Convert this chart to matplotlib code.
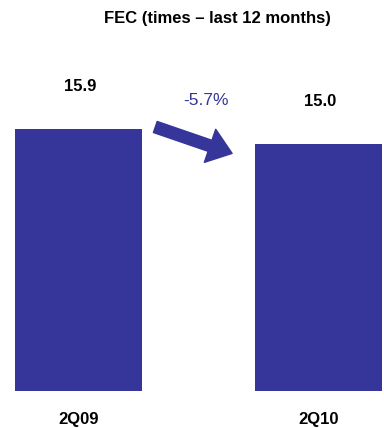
import matplotlib
matplotlib.use("Agg")
import matplotlib.pyplot as plt

plt.rcParams['font.family'] = ['Liberation Sans Narrow', 'Liberation Sans', 'DejaVu Sans']

# donnees
periodes = ["2Q09", "2Q10"]
valeurs = [15.9, 15.0]
variation = "-5.7%"
titre = "FEC (times \u2013 last 12 months)"

bleu = "#35359a"

fig = plt.figure(figsize=(3.84, 4.28), dpi=100)
ax = fig.add_axes([0, 37 / 428, 1, 391 / 428])

x = list(range(len(valeurs)))
bars = ax.bar(x, valeurs, width=0.53, color=bleu)

ax.set_xlim(-78.5 / 240, (384 - 78.5) / 240)
ax.set_ylim(0, 391 / 16.5)

# valeurs au dessus des barres
for xi, v in zip(x, valeurs):
    ax.annotate(f"{v:.1f}", xy=(xi, v), xytext=(1, 25), textcoords="offset points",
                ha="center", va="bottom", fontsize=12, fontweight="bold")

# fleche de variation
ax.annotate("", xy=(0.64, 14.4), xytext=(0.32, 16.0),
            arrowprops=dict(arrowstyle="simple,head_length=1.2,head_width=1.8,tail_width=0.6",
                            color=bleu, mutation_scale=14, shrinkA=0, shrinkB=0))
ax.text(0.53, 17.6, variation, color=bleu, fontsize=12.5, ha="center", va="center")

ax.set_xticks(x)
ax.set_xticklabels(periodes, fontsize=12, fontweight="bold")
ax.tick_params(axis="x", length=0, pad=15)
ax.set_yticks([])
for s in ax.spines.values():
    s.set_visible(False)

fig.text(217 / 384, 1 - 18 / 428, titre, ha="center", va="center", fontsize=12, fontweight="bold")

fig.savefig("out.png", dpi=100)
